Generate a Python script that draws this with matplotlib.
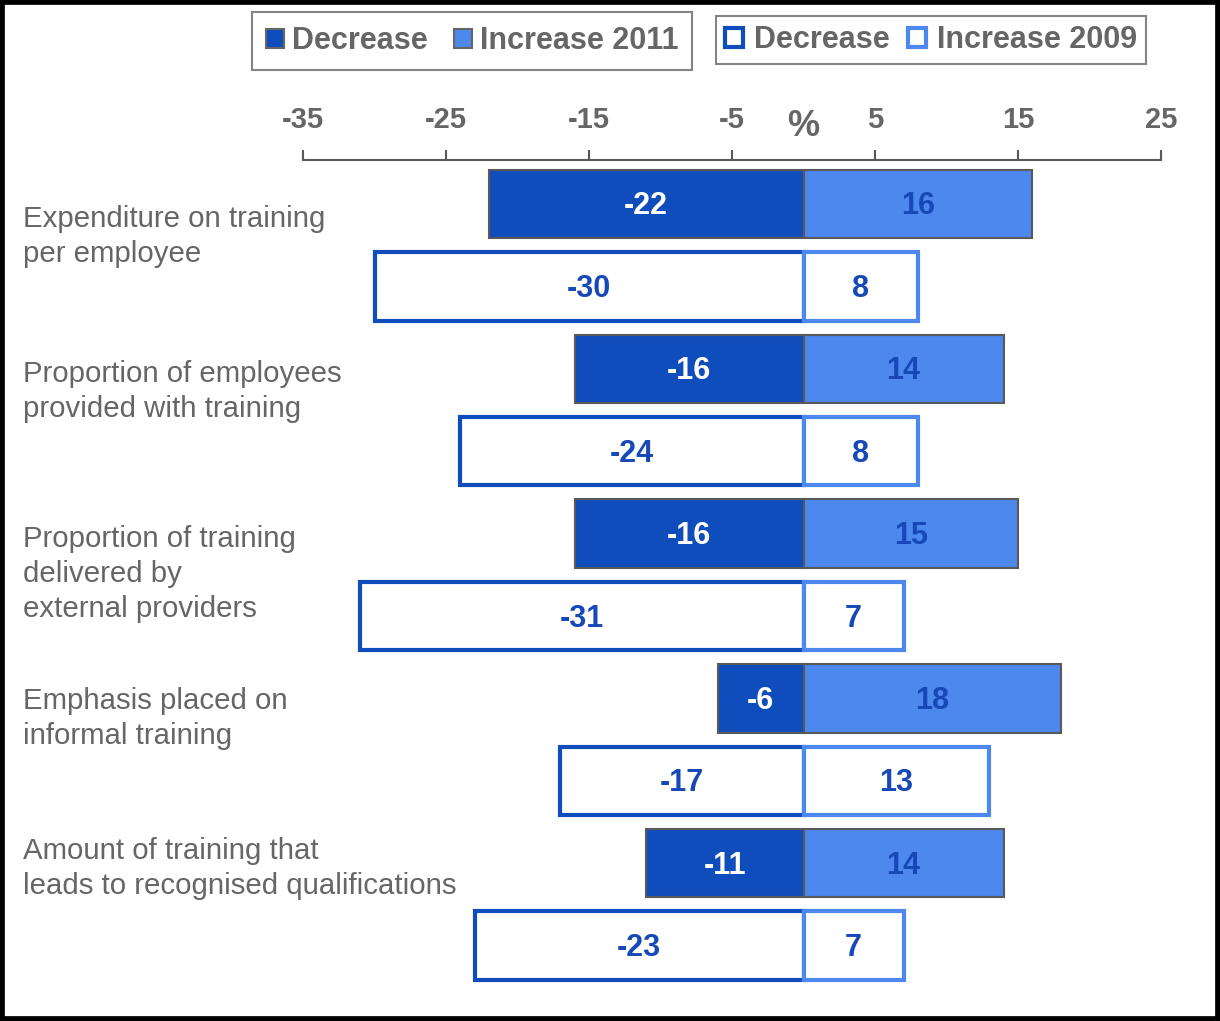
import numpy as np
import matplotlib.pyplot as plt
import matplotlib.transforms as mtransforms
from matplotlib.patches import Patch, Rectangle

plt.rcParams['font.family'] = ['Liberation Sans', 'DejaVu Sans']

categories = ['Expenditure on training\nper employee',
              'Proportion of employees\nprovided with training',
              'Proportion of training\ndelivered by\nexternal providers',
              'Emphasis placed on\ninformal training',
              'Amount of training that\nleads to recognised qualifications']
dec_2011 = [-22, -16, -16, -6, -11]
inc_2011 = [16, 14, 15, 18, 14]
dec_2009 = [-30, -24, -31, -17, -23]
inc_2009 = [8, 8, 7, 13, 7]
xticks = [-35, -25, -15, -5, 5, 15, 25]

dark = '#104DBC'
light = '#4D88EE'
txt_dark = '#1748B8'
gray = '#666666'

fig = plt.figure(figsize=(12.2, 10.21), dpi=100)
ax = fig.add_axes([303 / 1220, 1 - 1005 / 1021, 858 / 1220, 845 / 1021])

n = len(categories)
y11 = np.arange(n) * 2
y09 = y11 + 1
h = 0.83

ax.barh(y11, dec_2011, height=h, color=dark, edgecolor='#595959', linewidth=1.5)
ax.barh(y11, inc_2011, height=h, color=light, edgecolor='#595959', linewidth=1.5)
ax.barh(y09, dec_2009, height=h, color='white', edgecolor=dark, linewidth=3)
ax.barh(y09, inc_2009, height=h, color='white', edgecolor=light, linewidth=3)

vfs = 22
for i in range(n):
    ax.text(dec_2011[i] / 2, y11[i] + 0.03, str(dec_2011[i]), ha='center', va='center',
            color='white', fontsize=vfs, fontweight='bold')
    ax.text(inc_2011[i] / 2, y11[i] + 0.03, str(inc_2011[i]), ha='center', va='center',
            color=txt_dark, fontsize=vfs, fontweight='bold')
    ax.text(dec_2009[i] / 2, y09[i] + 0.03, str(dec_2009[i]), ha='center', va='center',
            color=txt_dark, fontsize=vfs, fontweight='bold')
    ax.text(inc_2009[i] / 2, y09[i] + 0.03, str(inc_2009[i]), ha='center', va='center',
            color=txt_dark, fontsize=vfs, fontweight='bold')

# category labels on the left; small per-label shifts (in bar units) as in the original layout
label_shift = [0.01, -0.11, -0.11, -0.14, -0.32]
trans = mtransforms.blended_transform_factory(fig.transFigure, ax.transData)
for i, c in enumerate(categories):
    ax.text(23 / 1220, y11[i] + label_shift[i], c, transform=trans, ha='left', va='top',
            fontsize=21.2, color=gray, linespacing=1.33)

ax.set_xlim(-35, 25)
ax.set_ylim(2 * n - 1 + 0.72, -0.534)
ax.xaxis.tick_top()
ax.set_xticks(xticks)
ax.set_xticklabels([str(t) for t in xticks])
ax.tick_params(axis='x', direction='out', length=7, width=1.5, color='#595959',
               labelsize=21, labelcolor=gray, pad=12)
for lab in ax.get_xticklabels():
    lab.set_fontweight('bold')
ax.set_yticks([])
for s in ['bottom', 'left', 'right']:
    ax.spines[s].set_visible(False)
ax.spines['top'].set_color('#595959')
ax.spines['top'].set_linewidth(1.5)

xtrans = mtransforms.blended_transform_factory(ax.transData, fig.transFigure)
ax.text(0, 1 - 126 / 1021, '%', transform=xtrans, ha='center', va='center',
        fontsize=26, fontweight='bold', color=gray)

# legends
h1 = [Patch(facecolor=dark, edgecolor=gray, linewidth=1.5),
      Patch(facecolor=light, edgecolor=gray, linewidth=1.5)]
h2 = [Patch(facecolor='white', edgecolor=dark, linewidth=3),
      Patch(facecolor='white', edgecolor=light, linewidth=3)]
leg_kw = dict(ncol=2, loc='center', frameon=True, fancybox=False,
              handlelength=0.6, handleheight=0.6, labelcolor=gray,
              prop={'weight': 'bold', 'size': 22})
leg1 = fig.legend(h1, ['Decrease', 'Increase 2011'],
                  bbox_to_anchor=(472 / 1220, 1 - 41 / 1021), borderpad=0.45,
                  handletextpad=0.25, columnspacing=0.85, **leg_kw)
leg2 = fig.legend(h2, ['Decrease', 'Increase 2009'],
                  bbox_to_anchor=(931 / 1220, 1 - 40 / 1021), borderpad=0.3,
                  handletextpad=0.35, columnspacing=0.6, **leg_kw)
for lg in (leg1, leg2):
    lg.get_frame().set_edgecolor(gray)
    lg.get_frame().set_linewidth(1.5)
    lg.get_frame().set_boxstyle('square', pad=0)

# outer border
fig.patches.append(Rectangle((0, 0), 1, 1, transform=fig.transFigure, fill=False,
                             edgecolor='black', linewidth=7))

fig.savefig('out.png', dpi=100)
